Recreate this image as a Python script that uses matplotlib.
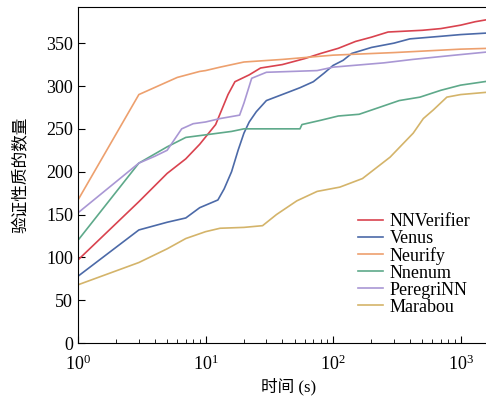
import matplotlib.pyplot as plt

# values (time in s, number of verified properties)
nnverifier_t = [1, 3, 5, 7, 9, 12, 15, 17, 22, 27, 40, 60, 80, 110, 150, 200, 270, 500, 700, 1000, 1300, 1700]
nnverifier_n = [97, 165, 198, 215, 232, 255, 290, 305, 313, 321, 325, 332, 338, 344, 352, 357, 363, 365, 367, 371, 375, 378]

venus_t = [1, 3, 5, 7, 9, 12.5, 14, 16, 18, 20, 22, 25, 30, 45, 55, 70, 85, 100, 120, 140, 200, 300, 400, 700, 1000, 1700]
venus_n = [78, 132, 141, 146, 158, 167, 180, 200, 225, 245, 258, 270, 283, 293, 298, 305, 315, 324, 330, 338, 345, 350, 355, 358, 360, 362]

neurify_t = [1, 3, 6, 9, 10, 13, 20, 40, 100, 300, 1000, 1700]
neurify_n = [167, 290, 310, 317, 318, 322, 328, 331, 336, 339, 343, 344]

nnenum_t = [1, 3, 5, 7, 10, 16, 20, 55, 57, 80, 110, 160, 230, 330, 480, 700, 1000, 1700]
nnenum_n = [120, 210, 229, 240, 243, 247, 250, 250, 255, 260, 265, 267, 275, 283, 287, 295, 301, 306]

peregrinn_t = [1, 3, 4, 5, 6.5, 8, 10, 13, 18.5, 20, 23, 30, 75, 100, 250, 420, 900, 1700]
peregrinn_n = [152, 210, 218, 225, 250, 256, 258, 262, 266, 280, 309, 316, 318, 322, 327, 331, 336, 340]

marabou_t = [1, 3, 5, 7, 10, 13, 20, 28, 36, 52, 75, 113, 170, 280, 425, 510, 610, 780, 1000, 1700]
marabou_n = [68, 94, 110, 122, 130, 134, 135, 137, 150, 166, 177, 182, 192, 217, 245, 262, 272, 287, 290, 293]

plt.rcParams['font.family'] = ['Liberation Serif', 'Noto Sans CJK SC']
plt.rcParams['mathtext.fontset'] = 'stix'

fig = plt.figure(figsize=(4.86, 3.98), dpi=100)
ax = fig.add_axes([0.1605, 0.138, 0.866, 0.844])

ax.plot(nnverifier_t, nnverifier_n, color='#d9434f', lw=1.2, label='NNVerifier')
ax.plot(venus_t, venus_n, color='#4c6aa8', lw=1.2, label='Venus')
ax.plot(neurify_t, neurify_n, color='#eda06e', lw=1.2, label='Neurify')
ax.plot(nnenum_t, nnenum_n, color='#5ea98a', lw=1.2, label='Nnenum')
ax.plot(peregrinn_t, peregrinn_n, color='#a997d4', lw=1.2, label='PeregriNN')
ax.plot(marabou_t, marabou_n, color='#d4b46a', lw=1.2, label='Marabou')

ax.set_xscale('log')
ax.set_xlim(1, 10 ** 3.3)
ax.set_ylim(0, 392)
ax.set_yticks(range(0, 351, 50))
ax.tick_params(which='both', direction='in', labelsize=13)
ax.tick_params(which='major', length=5)
ax.tick_params(which='minor', length=3)
ax.tick_params(axis='x', which='major', pad=8)

ax.set_xlabel('时间 (s)', fontsize=12, labelpad=3)
ax.set_ylabel('验证性质的数量', fontsize=12, labelpad=12)

ax.legend(loc='lower right', bbox_to_anchor=(0.95, 0.06), frameon=False, fontsize=13,
          labelspacing=0.0, handlelength=1.35, handletextpad=0.4, borderaxespad=0)

fig.savefig('out.png', dpi=100)
